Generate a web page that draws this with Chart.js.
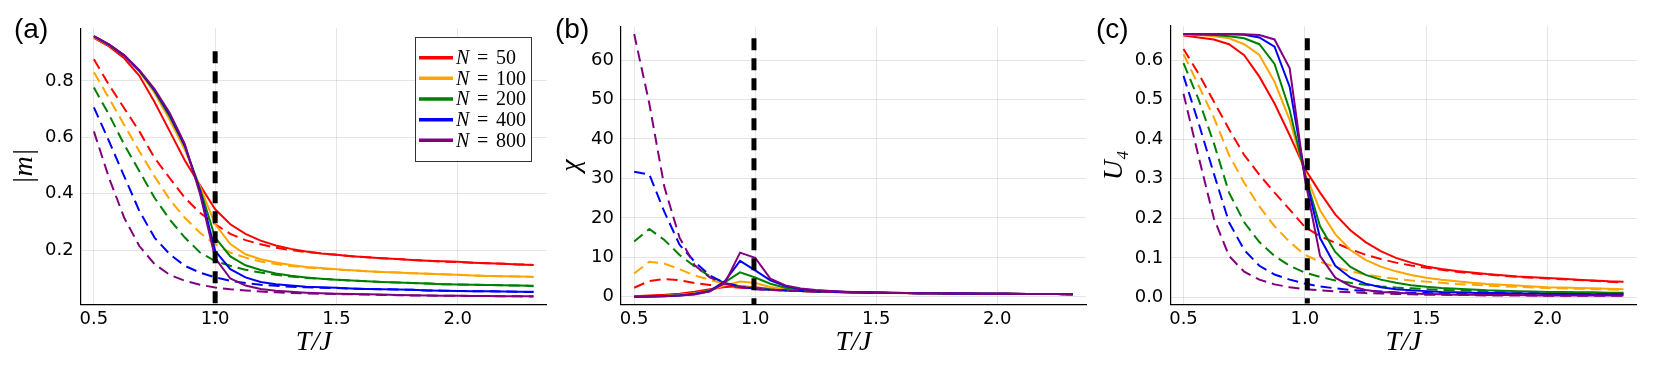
<!DOCTYPE html>
<html>
<head>
<meta charset="utf-8">
<script src="https://cdn.jsdelivr.net/npm/chart.js@4.4.1/dist/chart.umd.min.js"></script>
<style>
  html, body { margin: 0; padding: 0; background: #fff; }
  #wrap { position: relative; width: 1661px; height: 366px; }
  #wrap canvas { position: absolute; left: 0; top: 0; }
</style>
</head>
<body>
<div id="wrap">
  <canvas id="panelA" width="1661" height="366"></canvas>
  <canvas id="panelB" width="1661" height="366"></canvas>
  <canvas id="panelC" width="1661" height="366"></canvas>
</div>
<script>
// temperatures T/J
const temps = [0.5, 0.5625, 0.625, 0.6875, 0.75, 0.8125, 0.875, 0.9375, 1.0, 1.0625,
  1.125, 1.1875, 1.25, 1.3125, 1.375, 1.4375, 1.5, 1.5625, 1.625, 1.6875,
  1.75, 1.8125, 1.875, 1.9375, 2.0, 2.0625, 2.125, 2.1875, 2.25, 2.3125];

const sizes = [50, 100, 200, 400, 800];
const colors = ['#ff0000', '#ffa500', '#008000', '#0000ff', '#800080'];

const xTicks = [0.5, 1.0, 1.5, 2.0];
const yTicksA = [0.2, 0.4, 0.6, 0.8];
const yTicksB = [0, 10, 20, 30, 40, 50, 60];
const yTicksC = [0.0, 0.1, 0.2, 0.3, 0.4, 0.5, 0.6];

// (a) |m|, solid
const mRed    = [0.952, 0.922, 0.880, 0.818, 0.725, 0.622, 0.518, 0.430, 0.345, 0.292, 0.258, 0.234, 0.217, 0.205, 0.196, 0.189, 0.184, 0.179, 0.175, 0.172, 0.169, 0.166, 0.163, 0.161, 0.159, 0.156, 0.154, 0.152, 0.150, 0.148];
const mOrange = [0.955, 0.926, 0.890, 0.833, 0.757, 0.662, 0.556, 0.425, 0.292, 0.222, 0.186, 0.168, 0.157, 0.148, 0.141, 0.137, 0.133, 0.129, 0.126, 0.123, 0.121, 0.119, 0.117, 0.115, 0.113, 0.111, 0.109, 0.108, 0.107, 0.106];
const mGreen  = [0.957, 0.927, 0.889, 0.835, 0.764, 0.674, 0.568, 0.418, 0.245, 0.178, 0.147, 0.130, 0.118, 0.110, 0.104, 0.099, 0.096, 0.093, 0.090, 0.088, 0.086, 0.084, 0.082, 0.080, 0.079, 0.078, 0.077, 0.076, 0.075, 0.074];
const mBlue   = [0.958, 0.928, 0.890, 0.836, 0.768, 0.680, 0.570, 0.410, 0.198, 0.133, 0.104, 0.088, 0.080, 0.075, 0.071, 0.069, 0.067, 0.065, 0.063, 0.062, 0.061, 0.060, 0.058, 0.057, 0.056, 0.055, 0.055, 0.054, 0.053, 0.053];
const mPurple = [0.958, 0.929, 0.891, 0.838, 0.771, 0.686, 0.576, 0.400, 0.172, 0.100, 0.075, 0.063, 0.057, 0.053, 0.050, 0.048, 0.046, 0.045, 0.044, 0.043, 0.042, 0.041, 0.040, 0.039, 0.039, 0.038, 0.038, 0.037, 0.037, 0.037];
// (a) |m|, dashed
const mdRed    = [0.876, 0.785, 0.703, 0.621, 0.527, 0.456, 0.386, 0.333, 0.292, 0.258, 0.236, 0.221, 0.209, 0.201, 0.194, 0.189, 0.184, 0.179, 0.175, 0.172, 0.169, 0.166, 0.163, 0.160, 0.158, 0.156, 0.154, 0.152, 0.150, 0.148];
const mdOrange = [0.830, 0.738, 0.644, 0.550, 0.462, 0.380, 0.315, 0.262, 0.221, 0.192, 0.174, 0.160, 0.151, 0.144, 0.139, 0.135, 0.132, 0.129, 0.126, 0.123, 0.121, 0.119, 0.117, 0.115, 0.113, 0.111, 0.109, 0.108, 0.107, 0.105];
const mdGreen  = [0.776, 0.680, 0.574, 0.480, 0.386, 0.309, 0.245, 0.192, 0.162, 0.145, 0.131, 0.121, 0.113, 0.107, 0.102, 0.099, 0.096, 0.093, 0.090, 0.088, 0.086, 0.084, 0.082, 0.080, 0.079, 0.078, 0.077, 0.076, 0.075, 0.073];
const mdBlue   = [0.706, 0.586, 0.462, 0.339, 0.245, 0.186, 0.145, 0.121, 0.104, 0.092, 0.084, 0.078, 0.074, 0.071, 0.069, 0.067, 0.066, 0.064, 0.063, 0.062, 0.061, 0.060, 0.058, 0.057, 0.056, 0.055, 0.055, 0.054, 0.053, 0.052];
const mdPurple = [0.621, 0.456, 0.315, 0.215, 0.151, 0.113, 0.092, 0.078, 0.068, 0.062, 0.058, 0.054, 0.051, 0.049, 0.047, 0.046, 0.045, 0.044, 0.043, 0.042, 0.041, 0.040, 0.040, 0.039, 0.039, 0.038, 0.038, 0.037, 0.037, 0.036];

// (b) chi, solid
const cRed    = [0.15, 0.30, 0.50, 0.80, 1.30, 1.90, 2.50, 2.70, 2.40, 2.00, 1.70, 1.50, 1.35, 1.25, 1.17, 1.10, 1.04, 0.99, 0.95, 0.91, 0.88, 0.85, 0.82, 0.79, 0.77, 0.75, 0.73, 0.71, 0.69, 0.68];
const cOrange = [0.05, 0.10, 0.25, 0.50, 0.90, 1.60, 2.90, 3.90, 3.50, 2.50, 1.90, 1.55, 1.35, 1.24, 1.15, 1.08, 1.02, 0.97, 0.93, 0.89, 0.86, 0.83, 0.80, 0.78, 0.76, 0.74, 0.72, 0.70, 0.68, 0.67];
const cGreen  = [0.03, 0.08, 0.20, 0.40, 0.75, 1.60, 3.70, 6.20, 4.90, 3.30, 2.30, 1.80, 1.50, 1.32, 1.20, 1.11, 1.04, 0.99, 0.94, 0.90, 0.87, 0.84, 0.81, 0.79, 0.77, 0.75, 0.73, 0.71, 0.69, 0.67];
const cBlue   = [0.02, 0.05, 0.15, 0.35, 0.70, 1.40, 4.00, 9.10, 6.70, 4.20, 2.70, 2.00, 1.60, 1.38, 1.24, 1.14, 1.06, 1.00, 0.95, 0.91, 0.88, 0.85, 0.82, 0.79, 0.77, 0.75, 0.73, 0.71, 0.69, 0.67];
const cPurple = [0.02, 0.05, 0.15, 0.30, 0.60, 1.40, 3.50, 11.20, 9.90, 4.60, 2.90, 2.10, 1.70, 1.45, 1.28, 1.17, 1.08, 1.02, 0.96, 0.92, 0.88, 0.85, 0.82, 0.79, 0.77, 0.75, 0.73, 0.71, 0.69, 0.67];
// (b) chi, dashed
const cdRed    = [2.30, 4.00, 4.50, 4.20, 3.50, 3.00, 2.60, 2.30, 2.00, 1.80, 1.60, 1.45, 1.34, 1.24, 1.16, 1.09, 1.03, 0.98, 0.94, 0.90, 0.87, 0.84, 0.81, 0.78, 0.76, 0.74, 0.72, 0.70, 0.68, 0.67];
const cdOrange = [5.90, 8.90, 8.40, 7.00, 5.40, 4.30, 3.30, 2.70, 2.20, 1.90, 1.65, 1.48, 1.35, 1.25, 1.17, 1.10, 1.04, 0.99, 0.94, 0.90, 0.87, 0.84, 0.81, 0.78, 0.76, 0.74, 0.72, 0.70, 0.68, 0.67];
const cdGreen  = [14.0, 17.2, 14.4, 10.6, 7.70, 5.20, 3.50, 2.60, 2.10, 1.85, 1.65, 1.48, 1.35, 1.25, 1.17, 1.10, 1.04, 0.99, 0.94, 0.90, 0.87, 0.84, 0.81, 0.78, 0.76, 0.74, 0.72, 0.70, 0.68, 0.67];
const cdBlue   = [31.7, 31.0, 21.5, 13.2, 8.90, 5.40, 3.50, 2.60, 2.00, 1.80, 1.60, 1.46, 1.34, 1.24, 1.16, 1.09, 1.03, 0.98, 0.94, 0.90, 0.87, 0.84, 0.81, 0.78, 0.76, 0.74, 0.72, 0.70, 0.68, 0.67];
const cdPurple = [66.6, 49.0, 27.8, 15.0, 8.00, 4.90, 3.30, 2.50, 1.90, 1.75, 1.58, 1.45, 1.33, 1.24, 1.16, 1.09, 1.03, 0.98, 0.94, 0.90, 0.87, 0.84, 0.81, 0.78, 0.76, 0.74, 0.72, 0.70, 0.68, 0.67];

// (c) U4, solid
const uRed    = [0.662, 0.657, 0.652, 0.640, 0.612, 0.558, 0.490, 0.410, 0.325, 0.265, 0.210, 0.170, 0.140, 0.117, 0.100, 0.088, 0.078, 0.072, 0.067, 0.063, 0.059, 0.056, 0.053, 0.051, 0.049, 0.047, 0.045, 0.043, 0.041, 0.040];
const uOrange = [0.664, 0.663, 0.660, 0.655, 0.640, 0.613, 0.545, 0.448, 0.315, 0.220, 0.160, 0.120, 0.095, 0.078, 0.066, 0.057, 0.050, 0.045, 0.041, 0.037, 0.034, 0.032, 0.030, 0.028, 0.026, 0.025, 0.024, 0.023, 0.022, 0.021];
const uGreen  = [0.665, 0.664, 0.663, 0.660, 0.655, 0.640, 0.590, 0.473, 0.310, 0.180, 0.115, 0.077, 0.057, 0.045, 0.037, 0.031, 0.027, 0.024, 0.022, 0.020, 0.018, 0.017, 0.016, 0.015, 0.014, 0.014, 0.013, 0.013, 0.012, 0.012];
const uBlue   = [0.666, 0.666, 0.665, 0.665, 0.664, 0.657, 0.634, 0.532, 0.310, 0.150, 0.080, 0.050, 0.035, 0.026, 0.021, 0.018, 0.016, 0.014, 0.013, 0.012, 0.011, 0.011, 0.010, 0.010, 0.009, 0.009, 0.009, 0.008, 0.008, 0.008];
const uPurple = [0.666, 0.666, 0.666, 0.666, 0.665, 0.663, 0.652, 0.579, 0.300, 0.105, 0.050, 0.029, 0.019, 0.014, 0.012, 0.010, 0.009, 0.008, 0.007, 0.007, 0.006, 0.006, 0.006, 0.005, 0.005, 0.005, 0.005, 0.005, 0.005, 0.005];
// (c) U4, dashed
const udRed    = [0.628, 0.565, 0.495, 0.425, 0.360, 0.310, 0.265, 0.222, 0.178, 0.155, 0.138, 0.122, 0.108, 0.097, 0.088, 0.081, 0.075, 0.070, 0.065, 0.061, 0.058, 0.055, 0.052, 0.050, 0.048, 0.046, 0.044, 0.042, 0.040, 0.038];
const udOrange = [0.615, 0.535, 0.455, 0.360, 0.290, 0.230, 0.180, 0.140, 0.108, 0.090, 0.077, 0.066, 0.058, 0.052, 0.047, 0.043, 0.040, 0.037, 0.034, 0.032, 0.030, 0.028, 0.027, 0.025, 0.024, 0.023, 0.022, 0.021, 0.020, 0.019];
const udGreen  = [0.592, 0.500, 0.390, 0.265, 0.190, 0.140, 0.105, 0.080, 0.063, 0.052, 0.043, 0.037, 0.032, 0.028, 0.025, 0.023, 0.021, 0.019, 0.018, 0.017, 0.016, 0.015, 0.014, 0.013, 0.013, 0.012, 0.012, 0.011, 0.011, 0.010];
const udBlue   = [0.560, 0.440, 0.313, 0.190, 0.120, 0.080, 0.058, 0.045, 0.035, 0.028, 0.023, 0.019, 0.017, 0.015, 0.013, 0.012, 0.011, 0.010, 0.009, 0.009, 0.008, 0.008, 0.008, 0.007, 0.007, 0.007, 0.006, 0.006, 0.006, 0.006];
const udPurple = [0.515, 0.355, 0.200, 0.105, 0.065, 0.045, 0.033, 0.026, 0.021, 0.018, 0.015, 0.013, 0.011, 0.010, 0.009, 0.008, 0.007, 0.007, 0.006, 0.006, 0.005, 0.005, 0.005, 0.005, 0.004, 0.004, 0.004, 0.004, 0.004, 0.004];

Chart.defaults.font.family = 'DejaVu Sans';
Chart.defaults.color = '#000';

const series = ys => ys.map((y, k) => ({ x: temps[k], y: y }));

function makeDatasets(solid, dashed, vline) {
  const list = [];
  for (let i = 0; i < sizes.length; i++) {
    list.push({ label: 'N = ' + sizes[i], data: series(solid[i]), borderColor: colors[i],
      borderWidth: 2, pointRadius: 0 });
    list.push({ label: '', data: series(dashed[i]), borderColor: colors[i],
      borderWidth: 2, borderDash: [11, 6], pointRadius: 0 });
  }
  list.push({ label: '', data: [{ x: vline.x, y: vline.top }, { x: vline.x, y: vline.bottom }],
    borderColor: '#000', borderWidth: 5, borderDash: [12, 8], pointRadius: 0, clip: false });
  // first dataset is painted last, so reverse to get the painting order right
  return list.reverse();
}

const tagPlugin = {
  id: 'panelTag',
  afterDraw(chart, args, opts) {
    const ctx = chart.ctx;
    ctx.save();
    ctx.font = '28px "Liberation Sans"';
    ctx.fillStyle = '#000';
    ctx.textBaseline = 'alphabetic';
    ctx.fillText(opts.text, opts.x, opts.y);
    ctx.restore();
  }
};

const legendPlugin = {
  id: 'nLegend',
  afterDraw(chart, args, opts) {
    if (!opts.show) return;
    const ctx = chart.ctx;
    ctx.save();
    ctx.fillStyle = '#fff';
    ctx.fillRect(415, 37.5, 116.5, 124);
    ctx.strokeStyle = '#333';
    ctx.lineWidth = 1;
    ctx.strokeRect(415.5, 37.5, 116, 124);
    sizes.forEach((n, i) => {
      const y = 57.7 + i * 20.65;
      ctx.strokeStyle = colors[i];
      ctx.lineWidth = 3.5;
      ctx.beginPath();
      ctx.moveTo(419, y);
      ctx.lineTo(453, y);
      ctx.stroke();
      ctx.fillStyle = '#000';
      ctx.textBaseline = 'middle';
      ctx.font = 'italic 20px "Liberation Serif"';
      ctx.fillText('N', 456, y + 1);
      ctx.font = '20px "Liberation Serif"';
      ctx.fillText('=', 477, y + 1);
      ctx.fillText(String(n), 496, y + 1);
    });
    ctx.restore();
  }
};

const panels = [
  { id: 'panelA', tag: '(a)', tagX: 14, yTitle: '|m|',
    solid: [mRed, mOrange, mGreen, mBlue, mPurple],
    dashed: [mdRed, mdOrange, mdGreen, mdBlue, mdPurple],
    vline: { x: 1.0, top: 0.905, bottom: -0.025 },
    yMin: 0.008, yMax: 0.986, yTicks: yTicksA, fmt: v => v.toFixed(1),
    padLeft: 11, yWidth: 69.7, padRight: 1114.3, padTop: 28.3, legend: true },
  { id: 'panelB', tag: '(b)', tagX: 555, yTitle: 'χ',
    solid: [cRed, cOrange, cGreen, cBlue, cPurple],
    dashed: [cdRed, cdOrange, cdGreen, cdBlue, cdPurple],
    vline: { x: 0.995, top: 65.5, bottom: -1.95 },
    yMin: -1.95, yMax: 68.45, yTicks: yTicksB, fmt: v => String(Math.round(v)),
    padLeft: 557.5, yWidth: 63.5, padRight: 575, padTop: 26.7, legend: false },
  { id: 'panelC', tag: '(c)', tagX: 1096, yTitle: 'U₄',
    solid: [uRed, uOrange, uGreen, uBlue, uPurple],
    dashed: [udRed, udOrange, udGreen, udBlue, udPurple],
    vline: { x: 1.01, top: 0.655, bottom: -0.015 },
    yMin: -0.0178, yMax: 0.686, yTicks: yTicksC, fmt: v => v.toFixed(1),
    padLeft: 1101, yWidth: 69.3, padRight: 24.3, padTop: 26, legend: false }
];

panels.forEach(p => {
  new Chart(p.id, {
    type: 'line',
    data: { datasets: makeDatasets(p.solid, p.dashed, p.vline) },
    plugins: [tagPlugin, legendPlugin],
    options: {
      responsive: false,
      animation: false,
      layout: { padding: { left: p.padLeft, right: p.padRight, top: p.padTop, bottom: 0 } },
      elements: { line: { tension: 0, fill: false } },
      plugins: {
        legend: { display: false },
        tooltip: { enabled: false },
        panelTag: { text: p.tag, x: p.tagX, y: 37.5 },
        nLegend: { show: p.legend }
      },
      scales: {
        x: {
          type: 'linear', min: 0.445625, max: 2.366875,
          afterBuildTicks: s => { s.ticks = xTicks.map(v => ({ value: v })); },
          afterFit: s => { s.height = 61.5; },
          ticks: { callback: v => v.toFixed(1), font: { size: 18 }, color: '#000',
            padding: 4, maxRotation: 0, autoSkip: false },
          grid: { color: 'rgba(0,0,0,0.1)', drawTicks: false },
          border: { display: true, color: '#000', width: 1.2 },
          title: { display: true, text: 'T/J', color: '#000',
            font: { family: 'Liberation Serif', style: 'italic', size: 28, lineHeight: 1 },
            padding: { top: 0, bottom: 9 } }
        },
        y: {
          type: 'linear', min: p.yMin, max: p.yMax,
          afterBuildTicks: s => { s.ticks = p.yTicks.map(v => ({ value: v })); },
          afterFit: s => { s.width = p.yWidth; },
          ticks: { callback: v => p.fmt(v), font: { size: 18 }, color: '#000', padding: 7, autoSkip: false },
          grid: { color: 'rgba(0,0,0,0.1)', drawTicks: false },
          border: { display: true, color: '#000', width: 1.2 },
          title: { display: true, text: p.yTitle, color: '#000',
            font: { family: 'Liberation Serif', style: 'italic', size: 28, lineHeight: 1 },
            padding: { top: 0, bottom: 0 } }
        }
      }
    }
  });
});
</script>
</body>
</html>
